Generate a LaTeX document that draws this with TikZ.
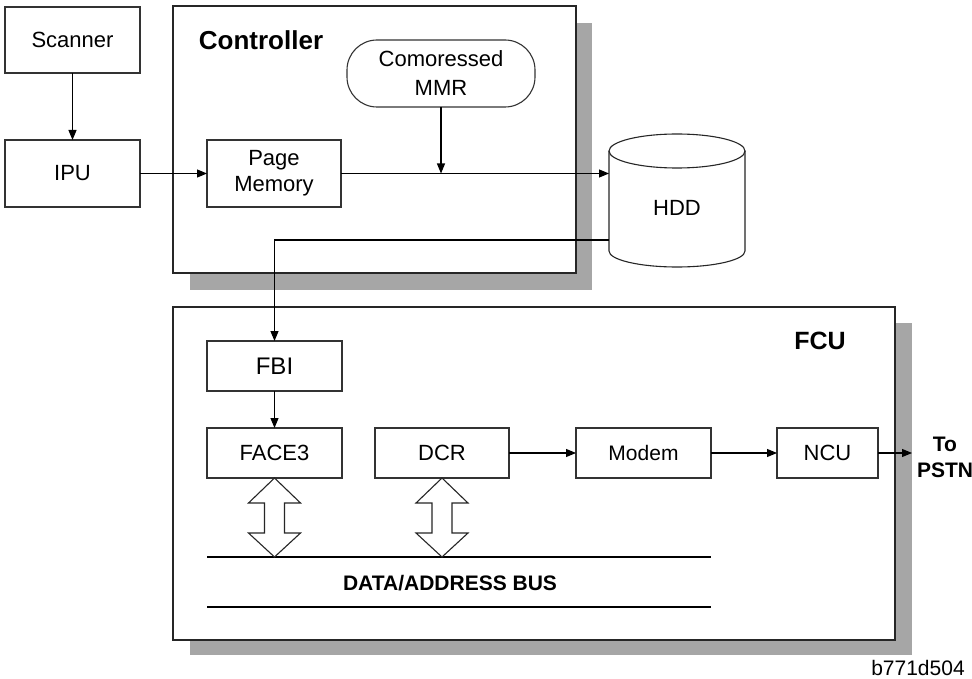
\documentclass[tikz,border=0pt]{standalone}
\usepackage{fontspec}
\setmainfont{Liberation Sans}
\usetikzlibrary{arrows.meta,calc}
\begin{document}
\begin{tikzpicture}[x=1pt,y=-1pt,
  box/.style={draw=black!80,line width=1.1pt,fill=white,inner sep=0pt,outer sep=0pt,
    font=\fontsize{22}{26}\selectfont,align=center},
  frame/.style={draw=black!85,line width=1.2pt,fill=white},
  shadow/.style={fill=black!35,draw=none},
  conn/.style={draw=black,line width=1.1pt,-{Triangle[length=10pt,width=8pt]}},
  dblarrow/.style={draw=black!85,line width=1.1pt,fill=white,line join=miter},
  bus/.style={draw=black,line width=2pt},
  title/.style={font=\fontsize{26}{30}\selectfont\bfseries,inner sep=0pt}]
\useasboundingbox (0,0) rectangle (972,679);

% shadows and frames
\fill[shadow] (190,23) rectangle (592,290);
\draw[frame] (173,6) rectangle (576,273);
\fill[shadow] (190,323) rectangle (912,655);
\draw[frame] (173,307) rectangle (895,640);

\node[title] (ctl) at (261,40) {Controller};
\node[title,font=\fontsize{25}{28}\selectfont\bfseries] (fcu) at (820,341) {FCU};

% top nodes
\node[box,minimum width=135,minimum height=66] (scan) at (72.5,40) {Scanner};
\node[box,minimum width=135,minimum height=67] (ipu) at (72.5,173.5) {IPU};
\node[box,minimum width=134,minimum height=67] (pm) at (274,173.5) {Page\\Memory};
\node[box,minimum width=188,minimum height=67,rounded corners=30pt,font=\fontsize{22}{29}\selectfont] (mmr) at (441,73.5) {Comoressed\\MMR};

% HDD cylinder
\node[minimum width=136,minimum height=133,inner sep=0pt,outer sep=0pt] (hdd) at (677,200.5) {};
\filldraw[draw=black!85,line width=1.1pt,fill=white] (609,151) -- (609,251)
  arc[start angle=180,end angle=360,x radius=68pt,y radius=16pt] -- (745,151);
\draw[draw=black!85,line width=1.1pt] (677,151) ellipse[x radius=68pt,y radius=17pt];
\node[font=\fontsize{22}{26}\selectfont,inner sep=0pt] (hddlbl) at (677,208) {HDD};
\coordinate (hddout) at (609,240);

% FCU nodes
\node[box,minimum width=135,minimum height=50,font=\fontsize{24}{26}\selectfont] (fbi) at (274.5,366) {FBI};
\node[box,minimum width=135,minimum height=50] (face) at (274.5,453) {FACE3};
\node[box,minimum width=134,minimum height=50] (dcr) at (442,453) {DCR};
\node[box,minimum width=135,minimum height=50,font=\fontsize{21}{24}\selectfont] (modem) at (643.5,453) {Modem};
\node[box,minimum width=101,minimum height=50] (ncu) at (827.5,453) {NCU};
\node[font=\fontsize{21}{26}\selectfont\bfseries,align=center,inner sep=0pt] (pstn) at (945,457) {To\\PSTN};
\coordinate (pstnin) at (912,453);

% connectors
\draw[conn] (scan) -- (ipu);
\draw[conn] (ipu) -- (pm);
\draw[conn] (pm.east) -- (pm.east -| hdd.west);
\draw[conn] (mmr.south) -- (mmr.south |- pm.east);
\draw[conn] (hddout) -| (fbi.north);
\draw[conn] (fbi) -- (face);
\draw[conn] (dcr) -- (modem);
\draw[conn] (modem) -- (ncu);
\draw[conn] (ncu) -- (pstnin);

% bus
\coordinate (busL) at (207,557);
\coordinate (busR) at (711,557);
\coordinate (busL2) at (207,607);
\coordinate (busR2) at (711,607);
\draw[bus] (busL) -- (busR);
\draw[bus] (busL2) -- (busR2);
\node[font=\fontsize{21}{24}\selectfont\bfseries,inner sep=0pt] (buslbl) at (450,583) {DATA/ADDRESS BUS};

% double block arrows
\foreach \n in {face,dcr}{
  \draw[dblarrow] (\n.south) -- ++(26,25) -- ++(-16,0) -- ++(0,30) -- ++(16,0)
    -- ++(-26,24) -- ++(-26,-24) -- ++(16,0) -- ++(0,-30) -- ++(-16,0) -- cycle;
}

\node[font=\fontsize{21}{24}\selectfont,inner sep=0pt] (code) at (918,668) {b771d504};
\end{tikzpicture}
\end{document}
